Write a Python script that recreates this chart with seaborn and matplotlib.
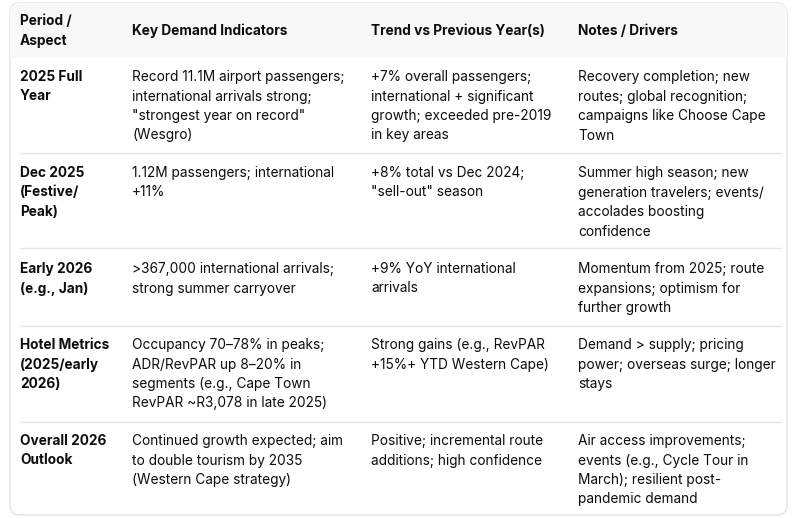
import matplotlib
matplotlib.use("Agg")
import matplotlib.pyplot as plt
from matplotlib.patches import FancyBboxPatch, Rectangle
import seaborn as sns

headers = ["Period /\nAspect", "Key Demand Indicators", "Trend vs Previous Year(s)", "Notes / Drivers"]
periods = [
    "2025 Full\nYear",
    "Dec 2025\n(Festive/\nPeak)",
    "Early 2026\n(e.g., Jan)",
    "Hotel Metrics\n(2025/early\n2026)",
    "Overall 2026\nOutlook",
]
indicators = [
    "Record 11.1M airport passengers;\ninternational arrivals strong;\n\"strongest year on record\"\n(Wesgro)",
    "1.12M passengers; international\n+11%",
    ">367,000 international arrivals;\nstrong summer carryover",
    "Occupancy 70\u201378% in peaks;\nADR/RevPAR up 8\u201320% in\nsegments (e.g., Cape Town\nRevPAR ~R3,078 in late 2025)",
    "Continued growth expected; aim\nto double tourism by 2035\n(Western Cape strategy)",
]
trends = [
    "+7% overall passengers;\ninternational + significant\ngrowth; exceeded pre-2019\nin key areas",
    "+8% total vs Dec 2024;\n\"sell-out\" season",
    "+9% YoY international\narrivals",
    "Strong gains (e.g., RevPAR\n+15%+ YTD Western Cape)",
    "Positive; incremental route\nadditions; high confidence",
]
notes = [
    "Recovery completion; new\nroutes; global recognition;\ncampaigns like Choose Cape\nTown",
    "Summer high season; new\ngeneration travelers; events/\naccolades boosting\nconfidence",
    "Momentum from 2025; route\nexpansions; optimism for\nfurther growth",
    "Demand > supply; pricing\npower; overseas surge; longer\nstays",
    "Air access improvements;\nevents (e.g., Cycle Tour in\nMarch); resilient post-\npandemic demand",
]

sns.set_theme(style="white")
plt.rcParams['font.family'] = ['Inter', 'DejaVu Sans']

W, H = 792, 518
fig = plt.figure(figsize=(W / 100, H / 100), dpi=100)
ax = fig.add_axes([0, 0, 1, 1])
ax.set_xlim(0, W)
ax.set_ylim(H, 0)
ax.axis("off")

txt_color = "#0d0d0d"
line_h = 19.5
fs = 9.85

# layout
left, right, top, bottom = 10, 787, 3, 515
col_x = [20, 132, 371, 578]
header_bottom = 58
row_tops = [58, 153, 248, 326, 422]
sep_x0, sep_x1 = 20, 781

# outer rounded box with header band
box = FancyBboxPatch((left, top), right - left, bottom - top,
                     boxstyle="round,pad=0,rounding_size=10",
                     linewidth=1.0, edgecolor="#e3e3e3", facecolor="white", zorder=1)
ax.add_patch(box)
clip_box = FancyBboxPatch((left, top), right - left, bottom - top,
                          boxstyle="round,pad=0,rounding_size=10",
                          linewidth=0, facecolor="none", transform=ax.transData)
ax.add_patch(clip_box)
hdr = Rectangle((left, top), right - left, header_bottom - top,
                facecolor="#f8f8f8", edgecolor="none", zorder=1.5)
ax.add_patch(hdr)
hdr.set_clip_path(clip_box)

# row separators
for y in row_tops[1:]:
    ax.plot([sep_x0, sep_x1], [y, y], color="#e6e6e6", lw=1.0, zorder=2)

def draw_lines(x, y0, text, bold=False):
    for i, ln in enumerate(text.split("\n")):
        ax.text(x, y0 + i * line_h, ln, fontsize=fs, color=txt_color,
                fontweight="bold" if bold else "normal",
                ha="left", va="center", zorder=3)

# header
draw_lines(col_x[0], 21, headers[0], bold=True)
for j in range(1, 4):
    draw_lines(col_x[j], 31, headers[j], bold=True)

offsets = [19, 20, 21, 19, 19]
for r in range(len(periods)):
    y0 = row_tops[r] + offsets[r]
    draw_lines(col_x[0], y0, periods[r], bold=True)
    draw_lines(col_x[1], y0, indicators[r])
    draw_lines(col_x[2], y0, trends[r])
    draw_lines(col_x[3], y0, notes[r])

fig.savefig("out.png", dpi=100, facecolor="white")
